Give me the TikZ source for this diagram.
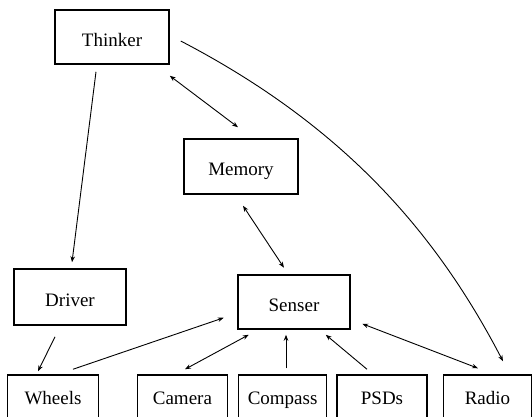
\documentclass[tikz,border=0pt]{standalone}
\usepackage{fontspec}
\setmainfont{Liberation Serif}
\usetikzlibrary{arrows.meta,calc}
\begin{document}
\begin{tikzpicture}[x=1pt,y=-1pt,
  box/.style={draw,line width=1.5pt,rectangle,inner sep=0pt,font=\fontsize{19}{21}\selectfont},
  big/.style={box,minimum width=112pt,minimum height=54pt,text height=18pt,text depth=0pt},
  small/.style={box,minimum width=89pt,minimum height=50pt,text height=10pt,text depth=2pt},
  conn/.style={line width=0.9pt},
  tip/.style={-{Stealth[length=6pt,width=4.5pt]}},
  both/.style={{Stealth[length=6pt,width=4.5pt]}-{Stealth[length=6pt,width=4.5pt]}}]
\useasboundingbox (0,0) rectangle (532,416);
\node[big,minimum width=114pt] (Thinker) at (112,37) {Thinker};
\node[big,minimum width=114pt,minimum height=55pt] (Memory) at (241,166.5) {Memory};
\node[big,minimum height=56pt] (Driver) at (70,297) {Driver};
\node[big] (Senser) at (294,302) {Senser};
\node[small,minimum width=91pt] (Wheels) at (53,400) {Wheels};
\node[small,minimum width=90pt] (Camera) at (182.4,400) {Camera};
\node[small,minimum width=88pt] (Compass) at (282.6,400) {Compass};
\node[small,minimum width=90pt] (PSDs) at (382,400) {PSDs};
\node[small,minimum width=88pt] (Radio) at (487.5,400) {Radio};

\draw[conn,tip] ($(Thinker.south)+(-16,7)$) -- ($(Driver.north)+(2,-6)$);
\draw[conn,both] ($(Thinker.south east)+(0,11)$) -- ($(Memory.north)+(-3,-11)$);
\draw[conn,both] ($(Memory.south)+(2,11)$) -- ($(Senser.north)+(-10,-6.5)$);
\draw[conn,tip] ($(Thinker.east)+(11,4)$) .. controls (340,124) and (434,228.5) .. ($(Radio.north)+(15.5,-13)$);
\draw[conn,tip] ($(Driver.south)+(-15,11)$) -- ($(Wheels.north)+(-15,-3)$);
\draw[conn,tip] ($(Wheels.north)+(20,-5)$) -- ($(Senser.south west)+(-13.5,-12)$);
\draw[conn,both] ($(Senser.south west)+(11.5,5)$) -- ($(Camera.north)+(2.6,-5)$);
\draw[conn,tip] ($(Compass.north)+(3.4,-6)$) -- ($(Senser.south)+(-8,5)$);
\draw[conn,tip] ($(PSDs.north)+(-15,-5)$) -- ($(Senser.south east)+(-25,5)$);
\draw[conn,both] ($(Senser.south east)+(11.5,-6)$) -- ($(Radio.north)+(-9.5,-6)$);
\end{tikzpicture}
\end{document}
